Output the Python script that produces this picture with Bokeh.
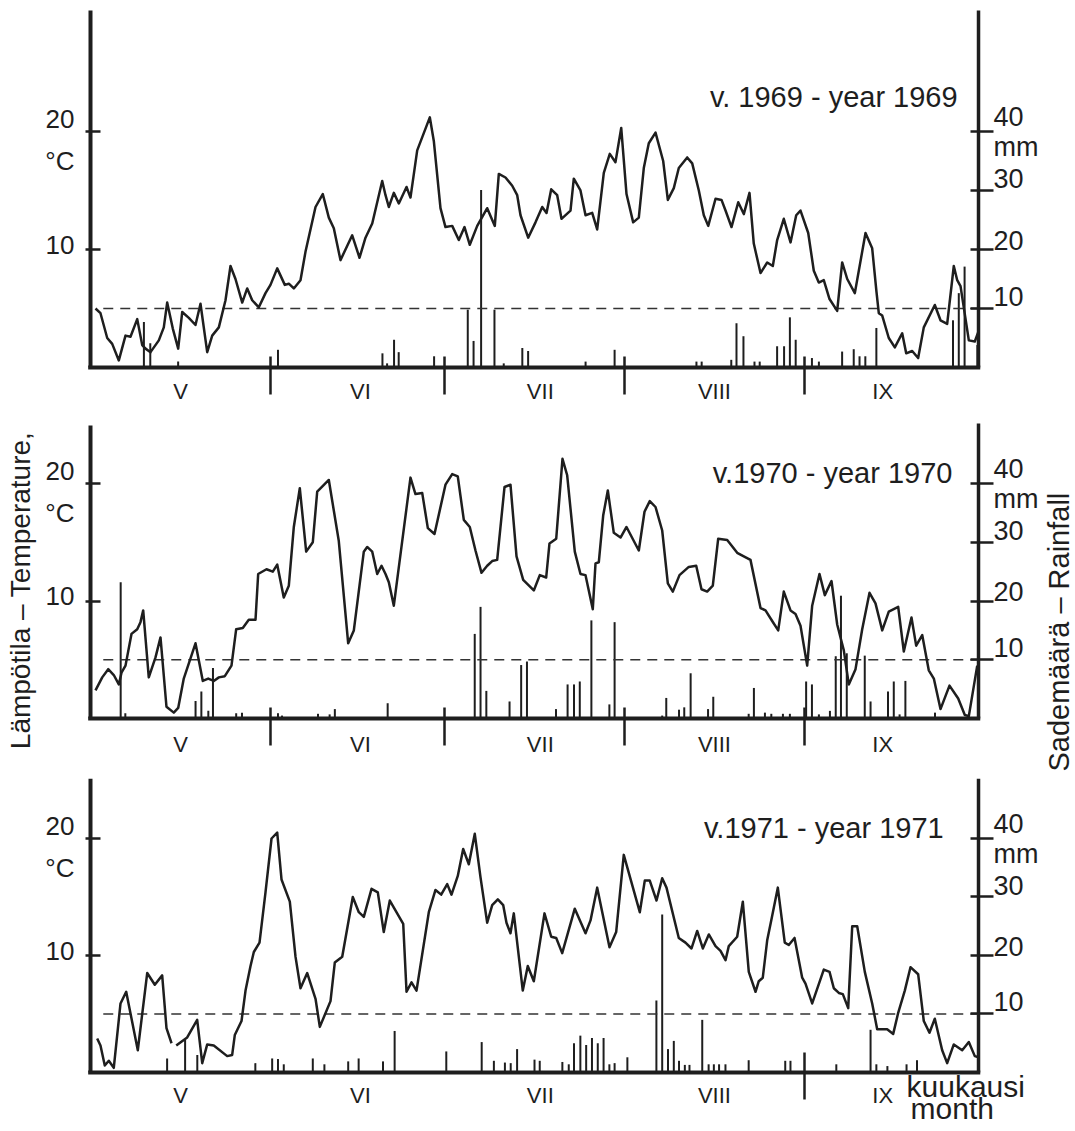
import numpy as np
from bokeh.plotting import figure
from bokeh.models import Range1d, LinearAxis, FixedTicker
from bokeh.layouts import column
from bokeh.embed import file_html
from bokeh.resources import INLINE
from bokeh.core.properties import value

FONT = "Liberation Sans"
INK = "#1e1e1e"

# x = days counted from 1 May (0 .. 153 = 30 September)
months = ["V", "VI", "VII", "VIII", "IX"]
month_mid = [15.5, 46.5, 77.5, 107.5, 136.5]
season_end = 153

# ---------------- 1969 ----------------
t69_day = [0.86, 1.72, 2.88, 3.74, 4.88, 6.03, 6.89, 8.05, 8.91, 9.48, 10.34, 11.77, 12.63, 13.21, 14.18,
           15.11, 15.8, 16.94, 18.09, 18.95, 20.11, 20.97, 22.11, 23.26, 24.12, 24.98, 26.14, 27.0, 27.86,
           29.0, 30.15, 31.01, 32.17, 33.48, 34.17, 35.03, 36.18, 37.04, 38.77, 40.02, 41.06, 41.92, 43.07,
           45.09, 46.35, 47.38, 48.54, 50.26, 50.83, 51.4, 52.26, 53.12, 54.45, 55.13, 56.29, 58.46, 59.15,
           60.3, 61.16, 62.32, 63.46, 64.44, 65.35, 66.63, 68.35, 69.66, 70.35, 71.5, 72.66, 73.52, 74.09,
           75.41, 76.67, 77.83, 78.57, 79.38, 80.41, 81.15, 82.7, 83.27, 84.42, 85.29, 86.44, 87.3, 88.44,
           89.47, 90.45, 91.44, 92.35, 93.5, 94.47, 95.33, 96.19, 97.35, 98.67, 99.47, 100.5, 101.36, 102.81,
           103.67, 104.81, 105.67, 106.43, 107.69, 108.72, 109.41, 110.44, 111.6, 112.56, 113.54, 114.28,
           115.44, 116.59, 117.56, 118.31, 119.45, 120.61, 121.59, 122.33, 123.66, 124.62, 125.48, 126.34,
           127.33, 128.65, 129.51, 130.38, 131.69, 133.53, 134.68, 135.42, 135.82, 136.41, 137.54, 138.58,
           139.85, 140.54, 141.57, 142.6, 143.57, 145.47, 146.45, 147.6, 148.74, 149.33, 149.9, 151.33,
           152.36, 152.95]
t69 = [5.0, 4.6, 2.5, 2.0, 0.6, 2.7, 2.6, 4.1, 1.9, 1.6, 1.3, 2.3, 3.4, 5.5, 3.3,
       1.6, 4.7, 4.2, 3.6, 5.4, 1.3, 2.7, 3.4, 5.7, 8.6, 7.5, 5.5, 6.7, 5.7,
       5.1, 6.3, 7.0, 8.4, 7.0, 7.1, 6.7, 7.4, 9.8, 13.6, 14.7, 12.7, 11.8, 9.1,
       11.2, 9.3, 11.0, 12.2, 15.8, 14.6, 13.6, 14.8, 13.9, 15.3, 14.4, 18.4, 21.2, 19.2,
       13.5, 11.9, 12.0, 10.8, 11.9, 10.4, 12.0, 13.5, 12.0, 16.4, 16.1, 15.4, 14.6, 12.9,
       11.0, 12.3, 13.6, 13.1, 15.1, 14.6, 12.6, 13.3, 16.0, 15.0, 12.9, 13.1, 11.7, 16.5,
       18.1, 17.4, 20.3, 14.7, 12.3, 12.7, 16.9, 19.0, 19.9, 17.5, 14.2, 15.2, 16.9, 17.8,
       17.3, 15.0, 12.9, 12.0, 14.3, 14.2, 13.3, 11.9, 14.0, 13.0, 14.8, 10.5,
       8.0, 8.9, 8.6, 10.8, 12.6, 10.6, 12.9, 13.3, 11.4, 8.2, 7.2, 7.4,
       5.8, 4.8, 8.9, 7.5, 6.3, 11.4, 10.1, 6.4, 4.6, 4.4, 2.5, 1.7,
       2.9, 1.2, 1.4, 0.8, 3.4, 5.3, 4.0, 3.7, 8.6, 7.4, 6.9, 2.3,
       2.2, 3.0]
r69_day = [9.2, 10.3, 15.1, 32.3, 50.3, 51.1, 52.3, 53.1, 59.2, 65.0, 66.0, 67.3, 69.6, 71.2, 74.4, 75.4,
           85.3, 90.3, 104.4, 105.3, 110.4, 111.3, 112.5, 114.4, 115.3, 118.3, 119.5, 120.5, 121.5, 124.3,
           125.5, 129.5, 131.5, 132.5, 133.5, 135.4, 148.6, 149.6, 150.6, 152.8]
r69 = [7.7, 4.1, 1.0, 3.0, 2.4, 0.7, 4.7, 2.6, 1.9, 9.8, 4.5, 30.1, 9.8, 0.7, 3.3, 2.8,
       1.0, 3.0, 1.0, 1.0, 1.3, 7.5, 5.3, 1.0, 1.0, 3.6, 3.6, 8.5, 4.7, 1.6,
       1.0, 2.7, 3.1, 1.9, 1.9, 6.7, 8.0, 12.6, 17.1, 3.8]

# ---------------- 1970 ----------------
t70_day = [0.86, 2.02, 3.05, 4.01, 4.88, 5.34, 6.03, 7.06, 8.05, 8.61, 9.08, 10.04, 11.2, 12.06, 13.09,
           14.35, 15.11, 16.07, 18.09, 19.35, 20.28, 21.24, 22.11, 23.14, 24.29, 25.1, 26.24, 27.27, 28.43,
           28.89, 30.32, 31.41, 32.17, 33.3, 34.17, 35.03, 36.06, 37.16, 38.3, 39.06, 41.06, 42.78, 44.4,
           45.37, 47.09, 47.67, 48.54, 49.4, 50.14, 50.83, 51.4, 52.26, 55.13, 55.99, 57.15, 58.12, 59.27,
           61.16, 62.32, 63.28, 64.32, 65.35, 66.33, 67.37, 68.35, 69.21, 70.07, 71.33, 72.36, 73.4, 74.55,
           76.38, 77.41, 78.51, 79.08, 80.24, 81.32, 82.13, 83.44, 84.42, 85.29, 86.54, 87.01, 87.58, 88.34,
           89.13, 90.16, 91.32, 92.35, 94.47, 95.45, 96.36, 97.35, 98.5, 99.47, 100.33, 101.48, 103.08,
           104.36, 105.27, 106.25, 107.22, 108.15, 109.7, 111.42, 112.56, 113.71, 115.44, 116.3, 117.45,
           118.49, 119.45, 120.61, 121.47, 122.33, 123.48, 124.34, 125.6, 126.52, 127.67, 128.65, 129.79,
           130.65, 131.81, 132.96, 134.22, 135.25, 136.41, 137.54, 139.16, 140.13, 141.45, 142.26, 143.3,
           144.43, 145.3, 146.45, 148.0, 149.5, 150.64, 151.33, 152.78]
t70 = [2.4, 3.5, 4.2, 3.7, 2.9, 3.9, 4.5, 7.2, 7.6, 8.2, 9.2, 3.5, 5.2, 6.9, 1.0,
       0.5, 0.9, 3.4, 6.4, 3.2, 3.4, 3.2, 3.5, 3.6, 4.5, 7.6, 7.7, 8.4, 8.4,
       12.3, 12.7, 12.5, 13.1, 10.3, 11.3, 16.3, 19.6, 14.2, 15.0, 19.3, 20.3, 15.1, 6.4,
       7.5, 14.2, 14.6, 14.2, 12.3, 13.0, 12.3, 11.6, 9.6, 20.5, 19.1, 19.2, 16.2, 15.7,
       19.9, 20.8, 20.6, 16.9, 16.3, 14.3, 12.4, 13.0, 13.4, 13.5, 19.7, 19.9, 13.8, 11.8,
       10.9, 12.2, 12.0, 14.9, 15.3, 22.1, 20.7, 14.2, 12.3, 12.2, 9.3, 13.2, 13.3, 17.3,
       19.4, 15.8, 15.4, 16.3, 14.3, 17.6, 18.5, 18.0, 16.0, 11.5, 10.8, 12.2, 12.9,
       13.0, 11.0, 10.8, 11.3, 15.3, 15.2, 14.1, 13.8, 13.5, 9.4, 9.2, 8.3,
       7.5, 10.8, 9.2, 8.9, 7.9, 4.5, 9.6, 12.3, 10.5, 11.7, 8.0, 5.8,
       2.9, 4.2, 7.6, 10.7, 9.8, 7.5, 9.1, 9.5, 5.7, 8.6, 6.2, 7.1,
       4.1, 3.4, 0.8, 2.8, 1.7, 0.3, 0.2, 4.5]
r70_day = [5.2, 6.0, 18.1, 19.1, 20.3, 21.1, 25.1, 26.1, 32.3, 33.0, 39.2, 41.2, 42.1, 51.2, 66.2, 67.2,
           68.2, 72.2, 74.2, 75.2, 80.2, 82.2, 83.3, 84.3, 86.3, 89.4, 90.3, 98.5, 99.2, 101.4, 102.3,
           103.4, 106.4, 107.3, 113.4, 114.3, 116.2, 117.3, 119.3, 120.5, 123.3, 124.3, 125.5, 127.4,
           128.4, 129.3, 130.3, 133.4, 134.4, 137.4, 138.4, 139.4, 140.4, 145.5]
r70 = [23.2, 0.9, 3.0, 4.6, 1.3, 8.6, 0.9, 1.0, 0.9, 0.5, 0.8, 0.7, 1.6, 2.6, 14.4, 19.0,
       4.7, 2.9, 9.1, 9.7, 1.6, 5.8, 5.8, 6.3, 16.7, 2.4, 16.4, 0.5, 3.5, 1.5, 1.9,
       7.7, 1.6, 3.7, 0.8, 5.2, 1.0, 0.8, 0.8, 0.8, 6.3, 5.8, 0.7, 1.3,
       10.6, 20.9, 11.1, 10.7, 2.9, 4.6, 6.3, 0.7, 6.4, 1.0]

# ---------------- 1971 ---------------- (nan = gap in the record)
nan = float("nan")
t71_day = [1.15, 1.72, 2.46, 3.15, 4.01, 5.17, 6.15, 8.15, 9.77, 11.08, 12.35, 13.09, 13.96, 14.4, 14.77,
           16.66, 18.38, 19.25, 20.11, 21.24, 23.55, 24.41, 24.86, 26.02, 26.71, 27.57, 28.14, 29.12, 30.15,
           31.19, 32.17, 32.91, 34.34, 35.32, 36.18, 37.34, 38.77, 39.51, 41.35, 42.09, 43.37, 45.19, 46.23,
           47.09, 48.42, 49.5, 50.53, 51.57, 53.88, 54.45, 55.31, 56.17, 58.29, 59.44, 60.42, 61.46, 62.2,
           63.28, 64.21, 65.18, 66.21, 67.19, 68.35, 69.21, 70.18, 71.11, 71.67, 72.36, 72.93, 74.48, 75.34,
           76.38, 78.22, 79.38, 80.24, 81.27, 83.44, 85.29, 86.15, 87.3, 89.42, 90.57, 91.88, 94.64, 95.5,
           96.36, 97.52, 98.5, 99.24, 101.36, 102.51, 103.55, 104.53, 105.5, 106.53, 107.69, 108.55, 109.41,
           109.97, 111.42, 112.39, 113.42, 114.58, 115.14, 115.83, 116.59, 117.33, 118.42, 119.62, 120.31,
           121.3, 122.62, 123.19, 124.34, 126.34, 127.33, 128.07, 128.93, 129.62, 130.55, 131.24, 132.1,
           133.41, 134.68, 135.54, 137.26, 138.3, 139.16, 140.3, 141.28, 142.6, 143.57, 144.55, 145.47,
           146.74, 147.6, 148.74, 150.19, 151.33, 152.36, 153.0]
t71 = [2.9, 2.3, 0.6, 1.0, 0.4, 5.9, 6.9, 1.9, 8.5, 7.5, 8.3, 3.8, 2.5, nan, 2.3,
       3.0, 4.5, 0.8, 2.4, 2.3, 1.4, 1.5, 3.2, 4.4, 7.0, 9.1, 10.3, 11.1, 15.4,
       20.0, 20.5, 16.5, 14.6, 9.9, 7.2, 8.5, 6.3, 3.9, 6.1, 9.4, 9.9, 15.0, 13.7,
       13.3, 15.7, 15.4, 12.0, 14.7, 12.7, 6.9, 7.7, 7.0, 13.7, 15.6, 15.2, 16.1, 15.2,
       16.8, 19.1, 17.8, 20.4, 16.7, 12.8, 14.3, 14.8, 14.3, 12.8, 11.9, 13.6, 7.0, 9.1,
       7.8, 13.6, 11.6, 11.5, 10.2, 14.0, 11.9, 13.0, 15.8, 10.7, 12.0, 18.6, 13.7, 16.4,
       16.4, 14.7, 16.6, 15.8, 11.5, 11.1, 10.6, 12.1, 10.6, 11.8, 10.8, 10.4, 9.6,
       10.8, 11.6, 14.6, 8.6, 6.9, 7.8, 8.1, 11.3, 13.1, 15.8, 11.1, 10.9,
       11.5, 8.1, 7.6, 5.9, 8.8, 8.6, 7.2, 6.8, 6.7, 5.5, 12.5, 12.5,
       8.6, 5.9, 3.7, 3.7, 3.3, 5.1, 7.0, 9.0, 8.4, 4.4, 3.4, 4.6,
       1.9, 0.8, 2.4, 1.9, 2.6, 1.4, 1.3]
r71_day = [13.2, 16.3, 18.4, 28.4, 31.3, 32.3, 33.3, 38.3, 40.3, 44.4, 46.2, 50.4, 52.4, 61.3, 67.4, 69.5,
           71.4, 72.4, 73.5, 76.5, 77.4, 81.3, 82.4, 83.3, 84.4, 85.4, 86.4, 87.4, 88.4, 89.4, 90.3, 92.5,
           97.5, 98.5, 99.5, 100.5, 101.4, 102.4, 103.2, 105.4, 106.5, 107.4, 108.3, 109.4, 113.4, 119.7,
           120.6, 128.5, 134.4, 135.4, 137.3, 140.6, 142.4]
r71 = [2.4, 5.6, 3.0, 1.6, 2.4, 2.3, 1.4, 2.4, 1.4, 1.9, 2.4, 1.9, 7.1, 3.6, 5.2, 2.0,
       1.7, 1.6, 4.0, 2.2, 2.0, 1.8, 1.4, 5.0, 6.3, 4.7, 5.9, 5.0, 5.9, 1.4, 1.6, 2.6,
       12.3, 27.0, 4.0, 5.4, 2.0, 1.3, 1.3, 9.0, 1.4, 1.4, 1.4, 1.4, 2.1, 2.0,
       2.0, 1.4, 7.3, 1.4, 1.1, 1.4, 2.1]

rain_threshold = 10  # mm, dashed reference line

left_pos = [10.4, 17.5, 21.1]
left_txt = ["10", "°C", "20"]
right_pos = [12.0, 21.5, 31.9, 37.3, 42.5]
right_txt = ["10", "20", "30", "mm", "40"]

panels = [
    dict(title="v. 1969 - year 1969", td=t69_day, t=t69, rd=r69_day, r=r69, bounds=[31, 61, 92, 123],
         h=415, yr=(-4.068, 31.10), ltop=30.25, rtop=30.25, title_xy=(149.4, 22.9), stand=12, tin=11),
    dict(title="v.1970 - year 1970", td=t70_day, t=t70, rd=r70_day, r=r70, bounds=[31, 61, 92, 123],
         h=363, yr=(-5.106, 25.787), ltop=24.94, rtop=25.1, title_xy=(148.5, 20.9), stand=13, tin=11),
    dict(title="v.1971 - year 1971", td=t71_day, t=t71, rd=r71_day, r=r71, bounds=[123],
         h=351, yr=(-4.872, 25.128), ltop=25.13, rtop=25.13, title_xy=(147.0, 20.9), stand=11, tin=20),
]

X_RANGE = (-15.507, 169.71)
X_TICK_OUT = 27
L_TICK_OUT = 5
R_TICK_OUT = 15


def text(p, x, y, s, size, align="left", angle=0.0):
    p.text(x=[x], y=[y], text=[s], angle=angle, text_align=align, text_baseline="middle",
           text_font=value(FONT), text_font_size=size, text_color=INK)


figs = []
for i, P in enumerate(panels):
    p = figure(width=1075, height=P["h"], x_range=Range1d(*X_RANGE), y_range=Range1d(*P["yr"]),
               output_backend="svg", toolbar_location=None, x_axis_location=None, y_axis_location=None,
               min_border=0, min_border_left=0, min_border_right=0, min_border_top=0, min_border_bottom=0)
    p.extra_y_ranges = {"rain": Range1d(2 * P["yr"][0], 2 * P["yr"][1])}
    p.grid.visible = False
    p.outline_line_color = None
    p.background_fill_color = "white"
    p.border_fill_color = "white"

    # bottom axis: month names and month-boundary ticks
    xa = LinearAxis(fixed_location=0, ticker=FixedTicker(ticks=month_mid, minor_ticks=P["bounds"]))
    xa.major_label_overrides = {m: t for m, t in zip(month_mid, months)}
    xa.major_tick_line_color = None
    xa.major_tick_in = 0
    xa.major_tick_out = 0
    xa.minor_tick_in = P["tin"]
    xa.minor_tick_out = X_TICK_OUT
    xa.minor_tick_line_width = 2.5
    xa.minor_tick_line_color = INK
    xa.axis_line_color = None
    xa.major_label_standoff = P["stand"] - X_TICK_OUT
    xa.major_label_text_font = FONT
    xa.major_label_text_font_size = "22px"
    xa.major_label_text_color = INK
    p.add_layout(xa, "below")

    # left temperature axis
    ya = LinearAxis(fixed_location=0, ticker=FixedTicker(ticks=left_pos, minor_ticks=[10, 20]))
    ya.major_label_overrides = {a: b for a, b in zip(left_pos, left_txt)}
    ya.major_tick_line_color = None
    ya.major_tick_in = 0
    ya.major_tick_out = 0
    ya.minor_tick_in = 10
    ya.minor_tick_out = L_TICK_OUT
    ya.minor_tick_line_width = 2.5
    ya.minor_tick_line_color = INK
    ya.axis_line_color = None
    ya.major_label_standoff = 16 - L_TICK_OUT
    ya.major_label_text_font = FONT
    ya.major_label_text_font_size = "26px"
    ya.major_label_text_color = INK
    p.add_layout(ya, "left")

    # right rainfall axis
    ra = LinearAxis(y_range_name="rain", fixed_location=season_end,
                    ticker=FixedTicker(ticks=right_pos, minor_ticks=[10, 20, 30, 40]))
    ra.major_label_overrides = {a: b for a, b in zip(right_pos, right_txt)}
    ra.major_tick_line_color = None
    ra.major_tick_in = 0
    ra.major_tick_out = 0
    ra.minor_tick_in = 8
    ra.minor_tick_out = R_TICK_OUT
    ra.minor_tick_line_width = 2.5
    ra.minor_tick_line_color = INK
    ra.axis_line_color = None
    ra.major_label_standoff = 15 - R_TICK_OUT
    ra.major_label_text_font = FONT
    ra.major_label_text_font_size = "27px"
    ra.major_label_text_color = INK
    p.add_layout(ra, "right")

    # axis lines (frame of each panel)
    p.segment(x0=[0, season_end, -0.4], y0=[0, 0, 0], x1=[0, season_end, season_end + 0.3],
              y1=[P["ltop"], P["rtop"], 0], line_width=[4, 3.5, 4], line_color=INK)

    # rainfall bars
    p.segment(x0=P["rd"], y0=[0] * len(P["r"]), x1=P["rd"], y1=P["r"], y_range_name="rain",
              line_width=2, line_color=INK)
    # 10 mm reference line
    p.line(x=[2.2, season_end], y=[rain_threshold, rain_threshold], y_range_name="rain",
           line_dash="10 7", line_width=1.4, line_color="#333333")
    # temperature
    p.line(x=P["td"], y=P["t"], line_width=2.5, line_color=INK, line_join="round")

    tx, ty = P["title_xy"]
    text(p, tx, ty, P["title"], "29px", align="right")
    if i == 1:
        text(p, -12.1, 10.9, "Lämpötila – Temperature,", "28px", align="center", angle=np.pi / 2)
        text(p, 166.9, 7.35, "Sademäärä – Rainfall", "29px", align="center", angle=np.pi / 2)
    if i == 2:
        text(p, 140.6, -1.2, "kuukausi", "30px")
        text(p, 141.3, -3.1, "month", "30px")
    figs.append(p)

layout = column(*figs, spacing=0)
open("out.html", "w").write(file_html(layout, INLINE))
